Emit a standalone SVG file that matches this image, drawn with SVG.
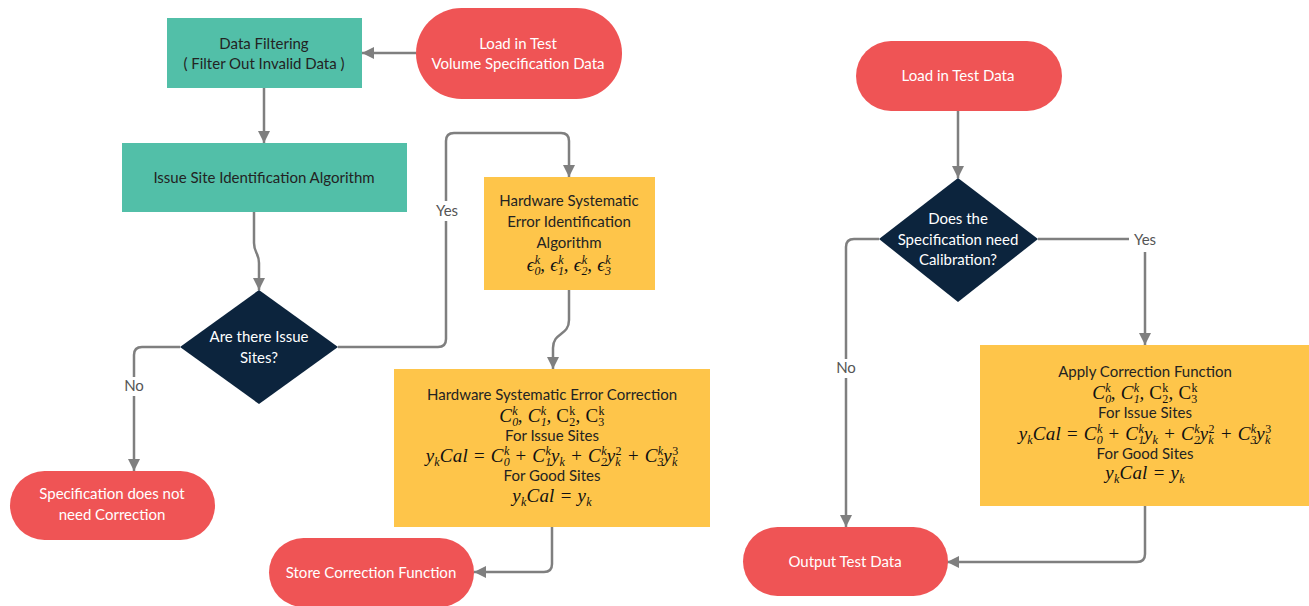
<svg xmlns="http://www.w3.org/2000/svg" width="1309" height="606" viewBox="0 0 1309 606">
<style>
.teal{fill:#52BFA8}
.red{fill:#EF5455}
.yel{fill:#FEC54A}
.navy{fill:#0C243D}
.t{font-family:Lato,"Open Sans",sans-serif;font-size:15px;text-anchor:middle}
.dk{fill:#232323}
.wt{fill:#ffffff}
.lbl{font-family:Lato,"Open Sans",sans-serif;font-size:15px;text-anchor:middle;fill:#555555}
.m{font-family:"Liberation Serif","DejaVu Serif",serif;font-style:italic;font-size:19px;text-anchor:middle;fill:#111111;letter-spacing:0.2px}
.s{font-size:12px}
.u{font-style:normal}
.conn{fill:none;stroke:#7F7F7F;stroke-width:2.5}
</style>
<defs>
<marker id="arr" viewBox="0 0 12 12" refX="12" refY="6" markerWidth="12" markerHeight="13" markerUnits="userSpaceOnUse" orient="auto">
<path d="M0,0 L12,6 L0,12 z" fill="#7F7F7F"/>
</marker>
</defs>
<rect width="1309" height="606" fill="#ffffff"/>

<g id="connectors">
<path class="conn" d="M416,53 H362" marker-end="url(#arr)"/>
<path class="conn" d="M264,88 V143" marker-end="url(#arr)"/>
<path class="conn" d="M254,212 V243 C254,253 259,253 259,263 V290" marker-end="url(#arr)"/>
<path class="conn" d="M180,347 H142 Q134,347 134,355 V471" marker-end="url(#arr)"/>
<path class="conn" d="M338,347 H438 Q446,347 446,339 V141 Q446,133 454,133 H561 Q569,133 569,141 V177" marker-end="url(#arr)"/>
<path class="conn" d="M569,290 V320 C569,336 553,332 553,348 V369" marker-end="url(#arr)"/>
<path class="conn" d="M552,527 V564 Q552,572 544,572 H474" marker-end="url(#arr)"/>
<path class="conn" d="M958,110 V178" marker-end="url(#arr)"/>
<path class="conn" d="M1038,239 H1137 Q1145,239 1145,247 V345" marker-end="url(#arr)"/>
<path class="conn" d="M879,239 H854 Q846,239 846,247 V527" marker-end="url(#arr)"/>
<path class="conn" d="M1145,506 V554 Q1145,562 1137,562 H947" marker-end="url(#arr)"/>
<rect x="122" y="377" width="24" height="19" fill="#ffffff"/>
<text class="lbl" x="134" y="391">No</text>
<rect x="433" y="201" width="28" height="20" fill="#ffffff"/>
<text class="lbl" x="447" y="216">Yes</text>
<rect x="1129" y="230" width="32" height="22" fill="#ffffff"/>
<text class="lbl" x="1145" y="245">Yes</text>
<rect x="834" y="359" width="24" height="19" fill="#ffffff"/>
<text class="lbl" x="846" y="373">No</text>
</g>

<g id="load-volume">
<rect class="red" x="416" y="8" width="206" height="91" rx="45.5"/>
<text class="t wt" x="518" y="49">Load in Test</text>
<text class="t wt" x="518" y="69">Volume Specification Data</text>
</g>

<g id="data-filtering">
<rect class="teal" x="167" y="18" width="195" height="70"/>
<text class="t dk" x="264" y="49">Data Filtering</text>
<text class="t dk" x="264" y="69">( Filter Out Invalid Data )</text>
</g>

<g id="issue-site">
<rect class="teal" x="122" y="143" width="285" height="69"/>
<text class="t dk" x="264" y="183">Issue Site Identification Algorithm</text>
</g>

<g id="decision-issue">
<polygon class="navy" points="259,290 338,347 259,404 180,347"/>
<text class="t wt" x="259" y="342">Are there Issue</text>
<text class="t wt" x="259" y="363">Sites?</text>
</g>

<g id="no-correction">
<rect class="red" x="10" y="471" width="205" height="69" rx="34.5"/>
<text class="t wt" x="112" y="499">Specification does not</text>
<text class="t wt" x="112" y="520">need Correction</text>
</g>

<g id="hw-identification">
<rect class="yel" x="484" y="177" width="171" height="113"/>
<text class="t dk" x="569" y="206">Hardware Systematic</text>
<text class="t dk" x="569" y="227">Error Identification</text>
<text class="t dk" x="569" y="248">Algorithm</text>
<text class="m" x="569" y="271">ϵ<tspan class="s" dy="4">0</tspan><tspan class="s" dx="-6" dy="-11">k</tspan><tspan dy="7">, ϵ</tspan><tspan class="s" dy="4">1</tspan><tspan class="s" dx="-6" dy="-11">k</tspan><tspan dy="7">, ϵ</tspan><tspan class="s" dy="4">2</tspan><tspan class="s" dx="-6" dy="-11">k</tspan><tspan dy="7">, ϵ</tspan><tspan class="s" dy="4">3</tspan><tspan class="s" dx="-6" dy="-11">k</tspan></text>
</g>

<g id="hw-correction">
<rect class="yel" x="394" y="369" width="316" height="158"/>
<text class="t dk" x="552" y="400">Hardware Systematic Error Correction</text>
<text class="m" x="552" y="422">C<tspan class="s" dy="4">0</tspan><tspan class="s" dx="-6" dy="-11">k</tspan><tspan dy="7">, C</tspan><tspan class="s" dy="4">1</tspan><tspan class="s" dx="-6" dy="-11">k</tspan><tspan dy="7">, </tspan><tspan class="u">C</tspan><tspan class="s u" dy="4">2</tspan><tspan class="s u" dx="-6" dy="-11">k</tspan><tspan class="u" dy="7">, C</tspan><tspan class="s u" dy="4">3</tspan><tspan class="s u" dx="-6" dy="-11">k</tspan></text>
<text class="t dk" x="552" y="441">For Issue Sites</text>
<text class="m" x="552" y="462">y<tspan class="s" dy="4">k</tspan><tspan dy="-4">Cal = C</tspan><tspan class="s" dy="4">0</tspan><tspan class="s" dx="-6" dy="-11">k</tspan><tspan dy="7"> + C</tspan><tspan class="s" dy="4">1</tspan><tspan class="s" dx="-6" dy="-11">k</tspan><tspan dy="7">y</tspan><tspan class="s" dy="4">k</tspan><tspan dy="-4"> + C</tspan><tspan class="s" dy="4">2</tspan><tspan class="s" dx="-6" dy="-11">k</tspan><tspan dy="7">y</tspan><tspan class="s" dy="4">k</tspan><tspan class="s u" dx="-5.3" dy="-11">2</tspan><tspan dy="7"> + C</tspan><tspan class="s" dy="4">3</tspan><tspan class="s" dx="-6" dy="-11">k</tspan><tspan dy="7">y</tspan><tspan class="s" dy="4">k</tspan><tspan class="s u" dx="-5.3" dy="-11">3</tspan></text>
<text class="t dk" x="552" y="481">For Good Sites</text>
<text class="m" x="552" y="502">y<tspan class="s" dy="4">k</tspan><tspan dy="-4">Cal = y</tspan><tspan class="s" dy="4">k</tspan></text>
</g>

<g id="store">
<rect class="red" x="269" y="538" width="205" height="69" rx="34.5"/>
<text class="t wt" x="371" y="578">Store Correction Function</text>
</g>

<g id="load-test">
<rect class="red" x="856" y="41" width="206" height="70" rx="35"/>
<text class="t wt" x="958" y="81">Load in Test Data</text>
</g>

<g id="decision-calibration">
<polygon class="navy" points="958,178 1038,239 958,302 879,239"/>
<text class="t wt" x="958" y="224">Does the</text>
<text class="t wt" x="958" y="245">Specification need</text>
<text class="t wt" x="958" y="265">Calibration?</text>
</g>

<g id="apply">
<rect class="yel" x="980" y="345" width="329" height="161"/>
<text class="t dk" x="1145" y="377">Apply Correction Function</text>
<text class="m" x="1145" y="399">C<tspan class="s" dy="4">0</tspan><tspan class="s" dx="-6" dy="-11">k</tspan><tspan dy="7">, C</tspan><tspan class="s" dy="4">1</tspan><tspan class="s" dx="-6" dy="-11">k</tspan><tspan dy="7">, </tspan><tspan class="u">C</tspan><tspan class="s u" dy="4">2</tspan><tspan class="s u" dx="-6" dy="-11">k</tspan><tspan class="u" dy="7">, C</tspan><tspan class="s u" dy="4">3</tspan><tspan class="s u" dx="-6" dy="-11">k</tspan></text>
<text class="t dk" x="1145" y="418">For Issue Sites</text>
<text class="m" x="1145" y="440">y<tspan class="s" dy="4">k</tspan><tspan dy="-4">Cal = C</tspan><tspan class="s" dy="4">0</tspan><tspan class="s" dx="-6" dy="-11">k</tspan><tspan dy="7"> + C</tspan><tspan class="s" dy="4">1</tspan><tspan class="s" dx="-6" dy="-11">k</tspan><tspan dy="7">y</tspan><tspan class="s" dy="4">k</tspan><tspan dy="-4"> + C</tspan><tspan class="s" dy="4">2</tspan><tspan class="s" dx="-6" dy="-11">k</tspan><tspan dy="7">y</tspan><tspan class="s" dy="4">k</tspan><tspan class="s u" dx="-5.3" dy="-11">2</tspan><tspan dy="7"> + C</tspan><tspan class="s" dy="4">3</tspan><tspan class="s" dx="-6" dy="-11">k</tspan><tspan dy="7">y</tspan><tspan class="s" dy="4">k</tspan><tspan class="s u" dx="-5.3" dy="-11">3</tspan></text>
<text class="t dk" x="1145" y="459">For Good Sites</text>
<text class="m" x="1145" y="479">y<tspan class="s" dy="4">k</tspan><tspan dy="-4">Cal = y</tspan><tspan class="s" dy="4">k</tspan></text>
</g>

<g id="output">
<rect class="red" x="743" y="527" width="205" height="69" rx="34.5"/>
<text class="t wt" x="845" y="567">Output Test Data</text>
</g>
</svg>
